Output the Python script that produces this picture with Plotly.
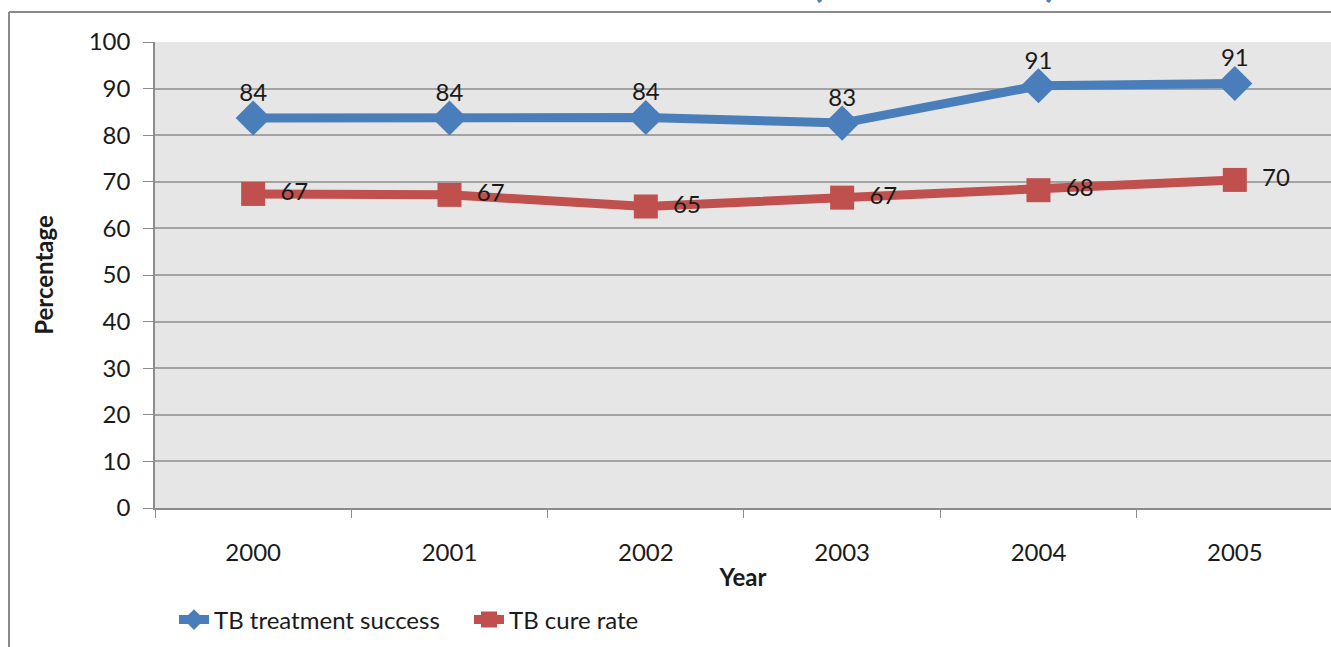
import plotly.graph_objects as go

# Data
years = ["2000", "2001", "2002", "2003", "2004", "2005"]
treatment_success = [83.7, 83.7, 83.8, 82.6, 90.6, 91.1]
cure_rate = [67.4, 67.2, 64.7, 66.6, 68.2, 70.4]
y_ticks = [0, 10, 20, 30, 40, 50, 60, 70, 80, 90, 100]

W, H = 1331, 647
L, R, T, B = 155, 0, 42, 139
pw, ph = W - L - R, H - T - B

def px_x(x):
    return (x - L) / pw

def px_y(y):
    return (H - B - y) / ph

FONT = "Lato"
FS = 24
TXT = "#1a1a1a"
BLUE = "#4a7ebb"
RED = "#c0504d"
GRID = "#a3a3a3"
AXIS = "#8c8c8c"

fig = go.Figure()

# Series lines and markers
fig.add_trace(go.Scatter(
    x=years, y=treatment_success, name="TB treatment success",
    mode="lines+markers",
    line=dict(color=BLUE, width=9),
    marker=dict(symbol="diamond", size=27, color=BLUE),
))
fig.add_trace(go.Scatter(
    x=years, y=cure_rate, name="TB cure rate",
    mode="lines+markers",
    line=dict(color=RED, width=9),
    marker=dict(symbol="square", size=24, color=RED),
))

# Value labels (invisible markers set the label offset)
fig.add_trace(go.Scatter(
    x=years, y=treatment_success, mode="markers+text", showlegend=False,
    hoverinfo="skip", marker=dict(size=16, opacity=0),
    texttemplate="%{y:.0f}", textposition="top center",
    textfont=dict(family=FONT, size=FS, color=TXT),
))
fig.add_trace(go.Scatter(
    x=years, y=cure_rate, mode="markers+text", showlegend=False,
    hoverinfo="skip", marker=dict(size=42, opacity=0),
    texttemplate="%{y:.0f}", textposition="middle right",
    textfont=dict(family=FONT, size=FS, color=TXT),
))

# Outer frame (top and left edges)
fig.add_shape(type="line", xref="paper", yref="paper",
              x0=px_x(9), x1=px_x(W + 5), y0=px_y(12), y1=px_y(12),
              line=dict(color="#8a8a8a", width=2))
fig.add_shape(type="line", xref="paper", yref="paper",
              x0=px_x(9), x1=px_x(9), y0=px_y(12), y1=px_y(H + 5),
              line=dict(color="#8a8a8a", width=2))

# Heading above the frame
fig.add_annotation(text="<b>(2000 – 2005)</b>", xref="paper", yref="paper",
                   x=px_x(934), y=px_y(7), xanchor="center", yanchor="bottom",
                   showarrow=False, font=dict(family=FONT, size=39, color=BLUE))

fig.update_layout(
    width=W, height=H,
    margin=dict(l=L, r=R, t=T, b=B),
    paper_bgcolor="white",
    plot_bgcolor="#e6e6e6",
    font=dict(family=FONT, size=FS, color=TXT),
    showlegend=True,
    legend=dict(orientation="h", x=px_x(174), y=px_y(620),
                xanchor="left", yanchor="middle", entrywidth=250,
                font=dict(family=FONT, size=FS, color=TXT),
                itemsizing="trace", tracegroupgap=0, bgcolor="rgba(0,0,0,0)"),
    xaxis=dict(
        type="category", range=[-0.5, 5.49],
        showgrid=False, showline=True, linecolor=AXIS, linewidth=1.5,
        ticks="outside", tickson="boundaries", ticklen=8, tickcolor=AXIS,
        ticklabelstandoff=22,
        tickfont=dict(family=FONT, size=FS, color=TXT),
        title=dict(text="<b>Year</b>", standoff=5,
                   font=dict(family=FONT, size=FS, color=TXT)),
    ),
    yaxis=dict(
        range=[0, 100], tickvals=y_ticks,
        showgrid=True, gridcolor=GRID, gridwidth=1.5,
        showline=True, linecolor=AXIS, linewidth=1.5,
        zeroline=False,
        ticks="outside", ticklen=10, tickcolor=AXIS,
        ticklabelstandoff=8,
        tickfont=dict(family=FONT, size=FS, color=TXT),
        title=dict(text="<b>Percentage</b>", standoff=28,
                   font=dict(family=FONT, size=FS, color=TXT)),
    ),
)

fig.write_html("out.html")
